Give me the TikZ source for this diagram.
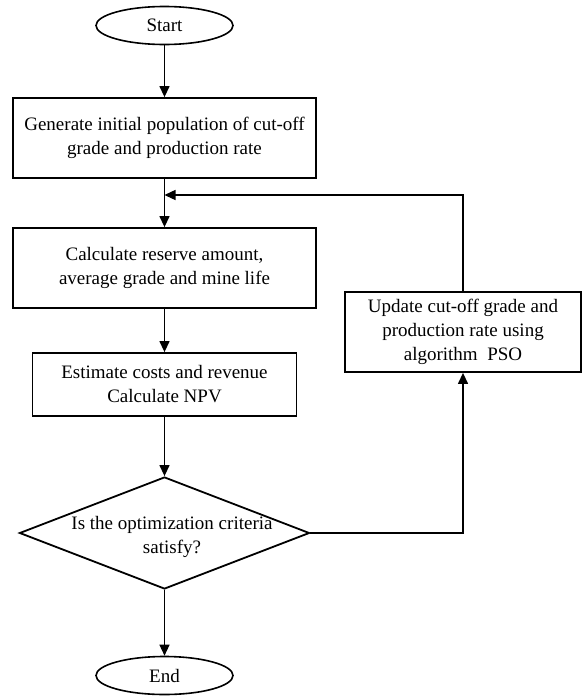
\documentclass[tikz,border=0pt]{standalone}
\usepackage{fontspec}
\setmainfont{Liberation Serif}
\usetikzlibrary{shapes.geometric,arrows.meta}
\begin{document}
\begin{tikzpicture}[x=1pt,y=-1pt,
  every node/.style={font=\fontsize{19}{24}\selectfont},
  procbox/.style={draw,line width=1.8pt,rectangle,inner sep=0pt,align=center},
  term/.style={draw,line width=1.6pt,ellipse,minimum width=137pt,minimum height=38pt,inner sep=0pt},
  decision/.style={draw,line width=1.8pt,diamond,minimum width=290pt,minimum height=112pt,inner sep=0pt},
  conn/.style={line width=1.3pt,-{Triangle[length=11pt,width=10pt]}}]
\useasboundingbox (0,0) rectangle (583,696);
\fill[white] (0,0) rectangle (583,696);
\node[term] (start) at (164.5,25.5) {Start};
\node[procbox,minimum width=303pt,minimum height=80pt] (b1) at (164.5,138)
  {Generate initial population of cut-off\\grade and production rate};
\node[procbox,minimum width=303pt,minimum height=80pt] (b2) at (164.5,268)
  {Calculate reserve amount,\\average grade and mine life};
\node[procbox,minimum width=264pt,minimum height=63pt] (b3) at (164.5,384.5)
  {Estimate costs and revenue\\Calculate NPV};
\node[decision] (dec) at (164.5,533) {};
\node[align=center] (dtext) at (172,537) {Is the optimization criteria\\satisfy?};
\node[term] (end) at (164.5,675.5) {End};
\node[procbox,minimum width=236pt,minimum height=80pt] (upd) at (463,332)
  {Update cut-off grade and\\production rate using\\algorithm\ \ PSO};
\coordinate (join) at (164.5,195);
\draw[conn] (start) -- (b1);
\draw[conn] (b1) -- (b2);
\draw[conn] (b2) -- (b3);
\draw[conn] (b3) -- (dec);
\draw[conn] (dec) -- (end);
\draw[conn] (dec.east) -| (upd.south);
\draw[conn] (upd.north) |- (join);
\end{tikzpicture}
\end{document}
